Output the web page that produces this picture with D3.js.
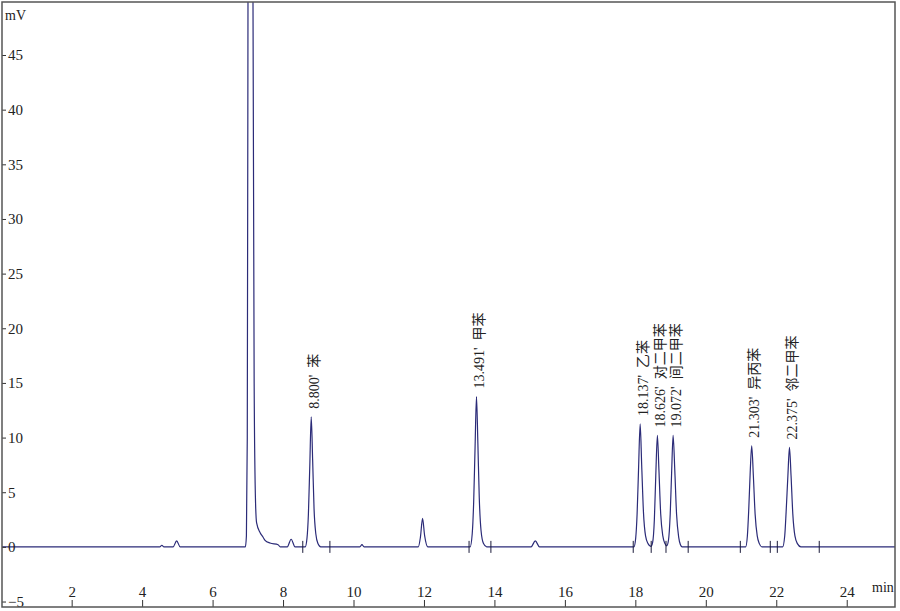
<!DOCTYPE html>
<html><head><meta charset="utf-8">
<script src="https://cdn.jsdelivr.net/npm/d3@7/dist/d3.min.js"></script>
<style>body{margin:0;background:#fff}svg{display:block}</style>
</head><body>
<svg id="c" width="900" height="611"></svg>
<script>
// Trace points (time in min, signal in mV)
const traceTime = [0,4.50,4.56,4.62,4.88,4.98,5.08,
 6.93,6.96,6.985,7.005,7.04,7.075,7.11,7.147,7.18,7.22,7.25,7.35,7.43,7.49,7.63,7.86,7.92,
 8.12,8.23,8.34,
 8.63,8.68,8.72,8.76,8.80,8.84,8.88,8.93,8.99,9.07,
 10.18,10.24,10.30,
 11.84,11.90,11.96,12.02,12.11,
 13.31,13.37,13.41,13.45,13.491,13.53,13.57,13.62,13.69,13.78,
 15.04,15.16,15.28,
 17.96,18.01,18.05,18.09,18.137,18.18,18.23,18.29,18.36,18.44,
 18.49,18.54,18.58,18.626,18.67,18.72,18.78,18.84,18.89,
 18.94,18.99,19.03,19.072,19.12,19.17,19.23,19.28,19.33,
 21.13,21.18,21.22,21.26,21.303,21.35,21.40,21.46,21.52,21.59,
 22.18,22.24,22.28,22.33,22.375,22.42,22.47,22.53,22.60,22.70,
 25.5];
const traceSignal = [0,0,0.15,0,0,0.55,0,
 0,1,10,50,150,200,150,50,15,4,2.2,1.3,0.9,0.6,0.35,0.2,0,
 0,0.7,0,
 0,0.8,3,7.5,11.9,8,3.5,1.2,0.3,0,
 0,0.2,0,
 0,0.9,2.6,1.0,0,
 0,1.2,4,9,13.75,9.5,4.5,1.5,0.3,0,
 0,0.55,0,
 0,0.8,3,7,11.25,7.5,3.2,1,0.3,0.05,
 0.4,2.5,6.5,10.2,7,3,1,0.3,0.1,
 0.6,3,6.8,10.2,7,3,0.9,0.2,0,
 0,1,3.5,6.8,9.25,6.5,3,1,0.3,0,
 0,1,3.2,6.5,9.1,6.5,3,1,0.3,0,
 0];
// Identified peaks
const peakTimes = [8.800, 13.491, 18.137, 18.626, 19.072, 21.303, 22.375];
const peakHeights = [11.9, 13.75, 11.25, 10.2, 10.2, 9.25, 9.1];
const peakNames = ["苯", "甲苯", "乙苯", "对二甲苯", "间二甲苯", "异丙苯", "邻二甲苯"];
// Integration markers (min)
const markTimes = [8.56, 9.33, 13.28, 13.90, 17.94, 18.45, 18.87, 19.50, 20.98, 21.83, 22.03, 23.22];
// Axis ticks
const yTicks = [-5, 0, 5, 10, 15, 20, 25, 30, 35, 40, 45];
const xTicks = [2, 4, 6, 8, 10, 12, 14, 16, 18, 20, 22, 24];

const svg = d3.select("#c");
const L = 2, R = 895, T = 2, B = 607;
const x = d3.scaleLinear().domain([0, 25.38]).range([1.2, 1.2 + 25.38 * 35.23]);
const y = d3.scaleLinear().domain([-5.5, 49.85]).range([B, T]);
const serif = "'Liberation Serif','Times New Roman','Noto Sans CJK SC',serif";

svg.append("defs").append("clipPath").attr("id", "clip")
  .append("rect").attr("x", L).attr("y", T).attr("width", R - L).attr("height", B - T);

const pts = traceTime.map((t, i) => [t, traceSignal[i]]);
const line = d3.line().x(d => x(d[0])).y(d => y(d[1])).curve(d3.curveMonotoneX);
svg.append("path").datum(pts).attr("clip-path", "url(#clip)")
  .attr("d", line).attr("fill", "none").attr("stroke", "#2b2b78").attr("stroke-width", 1.2);

// integration markers
svg.append("g").selectAll("line").data(markTimes).join("line")
  .attr("x1", d => x(d)).attr("x2", d => x(d))
  .attr("y1", y(0) - 6).attr("y2", y(0) + 6)
  .attr("stroke", "#1a1a3a").attr("stroke-width", 1);

// peak labels
svg.append("g").selectAll("text").data(peakTimes).join("text")
  .attr("transform", (d, i) => `translate(${x(d) + 3},${y(peakHeights[i]) - 8}) rotate(-90)`)
  .attr("text-anchor", "start").attr("dominant-baseline", "central")
  .attr("font-family", serif).attr("font-size", 14).attr("fill", "#222")
  .attr("xml:space", "preserve")
  .text((d, i) => d.toFixed(3) + "'  " + peakNames[i]);

// y axis
const ya = svg.append("g").attr("transform", `translate(${L},0)`)
  .call(d3.axisRight(y).tickValues(yTicks).tickSize(4).tickPadding(2).tickFormat(d3.format("d")));
ya.select(".domain").remove();
ya.selectAll("line").attr("stroke", "#333");
ya.selectAll("text").attr("font-family", serif).attr("font-size", 15).attr("fill", "#222");

// x axis
const xa = svg.append("g").attr("transform", `translate(0,${B})`)
  .call(d3.axisTop(x).tickValues(xTicks).tickSize(7).tickPadding(3).tickFormat(d3.format("d")));
xa.select(".domain").remove();
xa.selectAll("line").attr("stroke", "#333");
xa.selectAll("text").attr("font-family", serif).attr("font-size", 15).attr("fill", "#222");

svg.append("text").attr("x", 5).attr("y", 20).text("mV")
  .attr("font-family", serif).attr("font-size", 14).attr("fill", "#222");
svg.append("text").attr("x", 872).attr("y", 592).text("min")
  .attr("font-family", serif).attr("font-size", 14).attr("fill", "#222");

// frame
svg.append("rect").attr("x", L).attr("y", T).attr("width", R - L).attr("height", B - T)
  .attr("fill", "none").attr("stroke", "#555").attr("stroke-width", 1.5);
</script>
</body></html>
